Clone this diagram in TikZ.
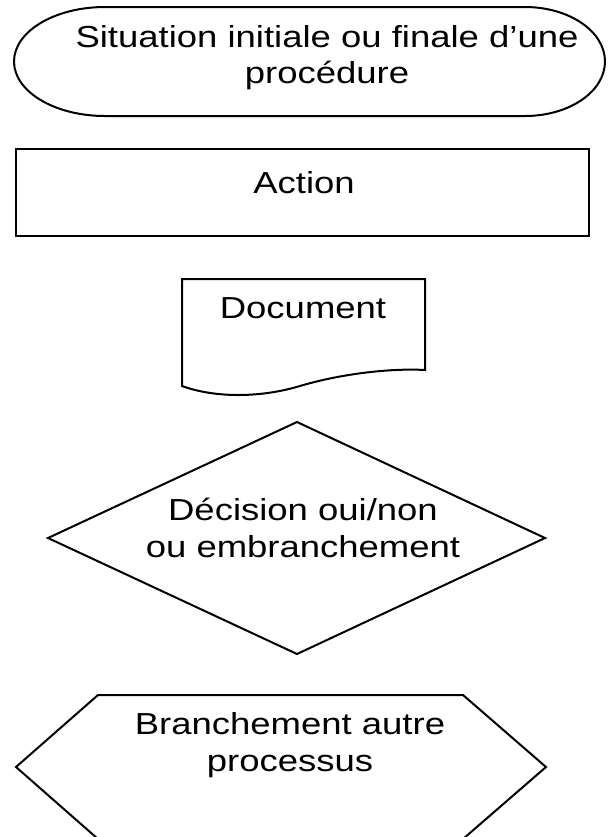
\documentclass[tikz,border=0pt]{standalone}
\usepackage{fontspec}
\setmainfont{Liberation Sans}[FakeStretch=1.2]
\usepackage{tikz}

\begin{document}
\begin{tikzpicture}[x=0.5pt, y=-0.5pt, outline/.style={black, line width=1pt, line join=miter}, lbl/.style={align=center, inner sep=0pt, font=\fontsize{15.2}{18.2}\selectfont}]
\useasboundingbox (0,0) rectangle (607,837);
\draw [outline] (105,7) -- (525,7) arc [start angle=-90, end angle=90, x radius=80, y radius=54.5] -- (105,116) arc [start angle=90, end angle=270, x radius=91, y radius=54.5] -- cycle;
\node [lbl] (term) at (327,57.5) {Situation initiale ou finale d’une\\procédure};
\draw [outline, line width=1.4pt] (16,149) rectangle (589,236);
\node [lbl] (act) at (304,183) {Action};
\draw [outline] (182,279) -- (425,279) -- (425,370) .. controls (390,368) and (340,374) .. (300,386) .. controls (260,398) and (215,398) .. (182,386) -- cycle;
\node [lbl] (doc) at (303,308.5) {Document};
\draw [outline] (297,422) -- (545,538) -- (297,654) -- (48,538) -- cycle;
\node [lbl] (dec) at (303,528) {Décision oui/non\\ou embranchement};
\draw [outline] (98,695) -- (463,695) -- (546,767) -- (463,839) -- (98,839) -- (16,767) -- cycle;
\node [lbl] (branch) at (290,745) {Branchement autre\\processus};
\end{tikzpicture}
\end{document}
